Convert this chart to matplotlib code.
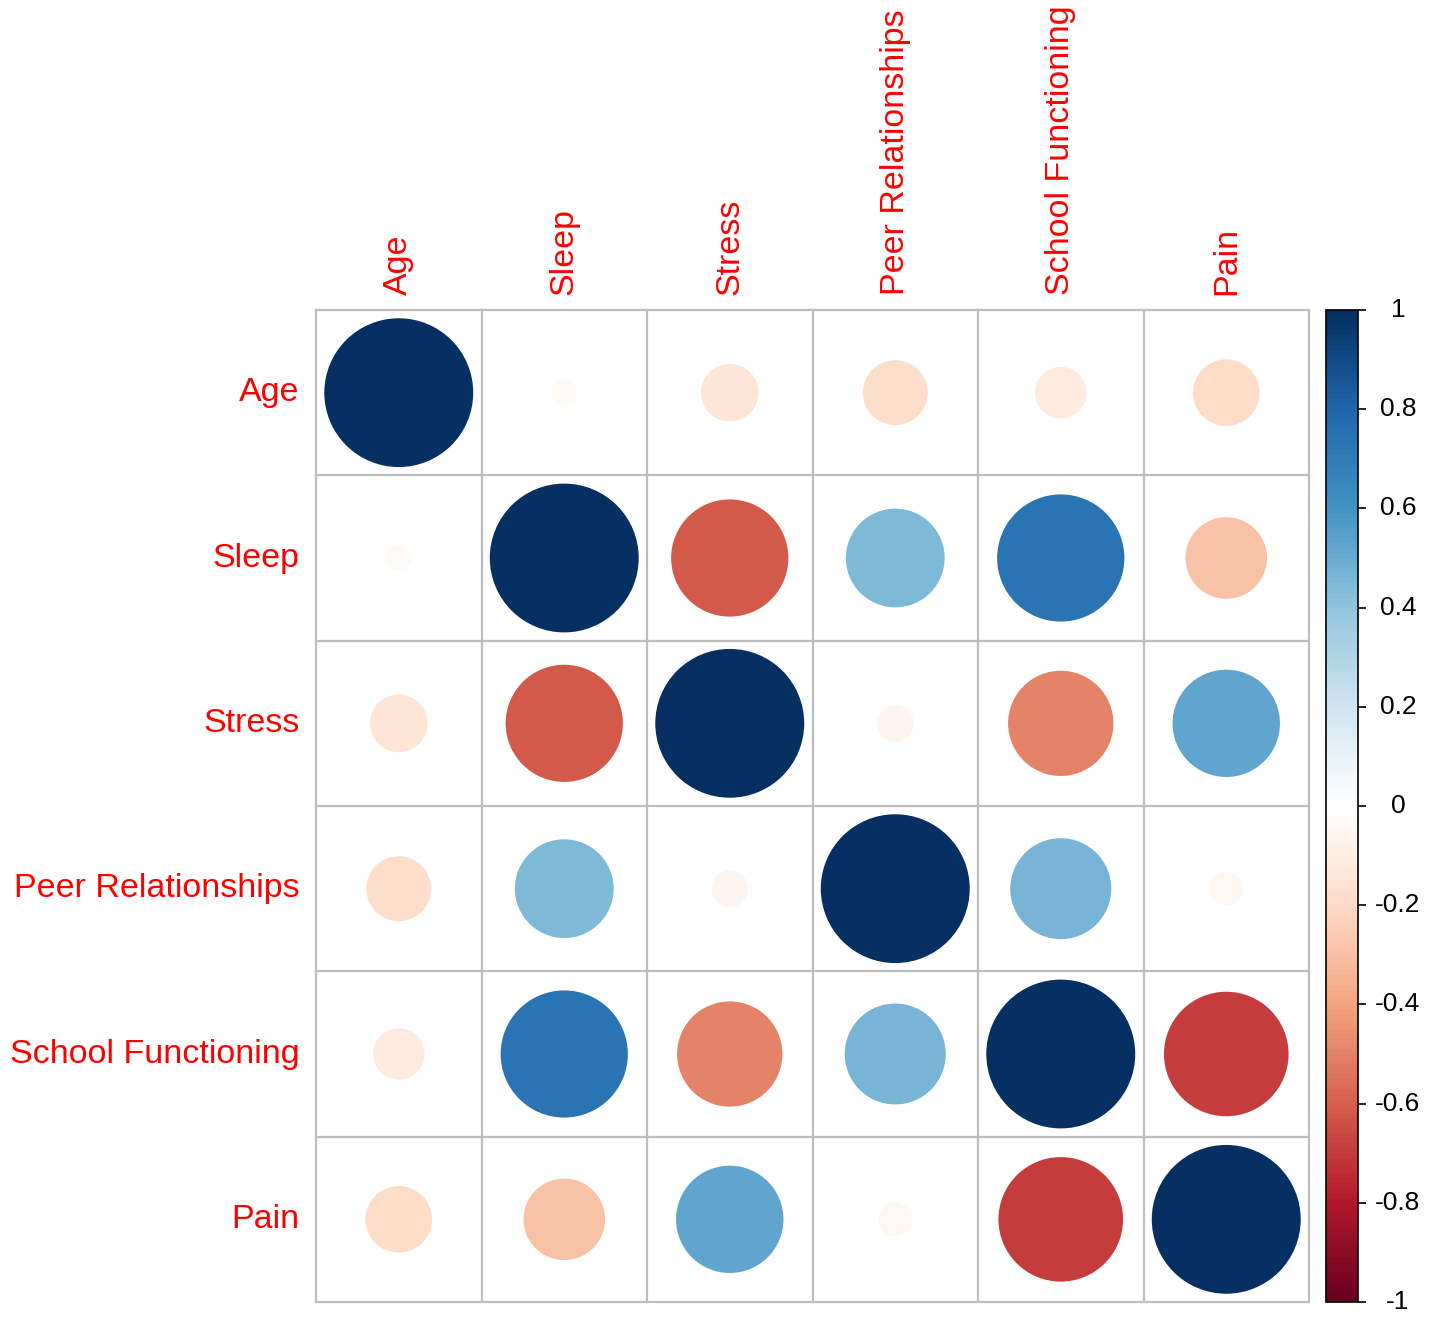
import numpy as np
import matplotlib
matplotlib.use("Agg")
import matplotlib.pyplot as plt
from matplotlib.patches import Circle
from matplotlib.colors import LinearSegmentedColormap, Normalize
from matplotlib.colorbar import ColorbarBase

plt.rcParams['font.family'] = ['Liberation Sans', 'DejaVu Sans']

labels = ["Age", "Sleep", "Stress", "Peer Relationships", "School Functioning", "Pain"]

# correlation matrix
corr = np.array([
    [1.00, -0.03, -0.15, -0.19, -0.12, -0.20],
    [-0.03, 1.00, -0.62, 0.44, 0.73, -0.30],
    [-0.15, -0.62, 1.00, -0.06, -0.50, 0.52],
    [-0.19, 0.44, -0.06, 1.00, 0.46, -0.05],
    [-0.12, 0.73, -0.50, 0.46, 1.00, -0.70],
    [-0.20, -0.30, 0.52, -0.05, -0.70, 1.00],
])

cbar_ticks = [-1, -0.8, -0.6, -0.4, -0.2, 0, 0.2, 0.4, 0.6, 0.8, 1]

rdbu = ["#67001F", "#B2182B", "#D6604D", "#F4A582", "#FDDBC7", "#FFFFFF",
        "#D1E5F0", "#92C5DE", "#4393C3", "#2166AC", "#053061"]
cmap = LinearSegmentedColormap.from_list("corrRdBu", rdbu, N=200)
norm = Normalize(-1, 1)

W, H = 1429, 1321
fig = plt.figure(figsize=(W / 100, H / 100), dpi=100)

gl, gr, gt, gb = 316, 1309, 310, 1302
ax = fig.add_axes([gl / W, 1 - gb / H, (gr - gl) / W, (gb - gt) / H])
n = len(labels)
ax.set_xlim(0, n)
ax.set_ylim(n, 0)
ax.set_axis_off()

for i in range(n):
    for j in range(n):
        r = corr[i, j]
        ax.add_patch(Circle((j + 0.5, i + 0.5), 0.45 * np.sqrt(abs(r)),
                            facecolor=cmap(norm(r)), edgecolor='none', zorder=1))

for k in range(n + 1):
    ax.plot([k, k], [0, n], color='#BEBEBE', lw=1.6, zorder=2, clip_on=False)
    ax.plot([0, n], [k, k], color='#BEBEBE', lw=1.6, zorder=2, clip_on=False)

for i, lab in enumerate(labels):
    ax.text(-0.1, i + 0.5, lab, ha='right', va='center', color='red', fontsize=24.5)
    ax.text(i + 0.5, -0.09, lab, ha='center', va='bottom', rotation=90,
            color='red', fontsize=24.5)

cb_l, cb_w = 1326, 32
cax = fig.add_axes([cb_l / W, 1 - gb / H, cb_w / W, (gb - gt) / H])
cb = ColorbarBase(cax, cmap=cmap, norm=norm, orientation='vertical')
cb.set_ticks(cbar_ticks)
cb.set_ticklabels([""] * len(cbar_ticks))
cb.outline.set_linewidth(1.2)
cax.tick_params(axis='y', direction='out', length=6, width=1.2)
label_x = (1398 - cb_l) / cb_w
for t in cbar_ticks:
    cax.text(label_x, t, f"{t:g}", transform=cax.get_yaxis_transform(),
             ha='center', va='center', fontsize=19)

fig.savefig("out.png", dpi=100)
